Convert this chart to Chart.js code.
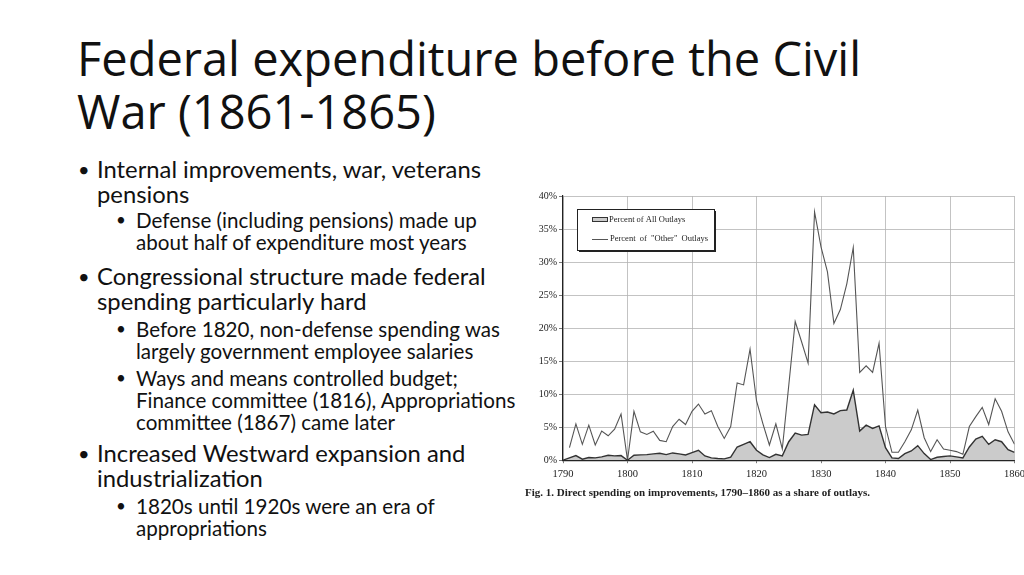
<!DOCTYPE html>
<html>
<head>
<meta charset="utf-8">
<script src="https://cdn.jsdelivr.net/npm/chart.js@4.4.1/dist/chart.umd.min.js"></script>
<style>
  html, body { margin: 0; padding: 0; background: #fff; }
  body { width: 1024px; height: 575px; position: relative; overflow: hidden; }
  .title {
    position: absolute; left: 77px; top: 32px;
    font-family: "Open Sans", "Noto Sans", sans-serif;
    font-size: 47px; line-height: 53px; color: #111; white-space: nowrap;
  }
  .item { position: absolute; font-family: Lato, "Noto Sans", sans-serif; color: #111; white-space: nowrap; }
  .l1 { left: 78px; font-size: 23.8px; line-height: 24.5px; }
  .l1 .t { margin-left: 19px; }
  .l1 .b { font-size: 20px; }
  .l2 { left: 116px; font-size: 20.6px; line-height: 22px; }
  .l2 .t { margin-left: 20px; }
  .l2 .b { font-size: 17px; }
  .b { position: absolute; left: 0; top: 0; }
  #chartBox { position: absolute; left: 525px; top: 186px; width: 505px; height: 316px; }
</style>
</head>
<body>
<div class="title">Federal expenditure before the Civil<br>War (1861-1865)</div>

<div class="item l1" style="top:157px"><span class="b">•</span><div class="t">Internal improvements, war, veterans<br>pensions</div></div>
<div class="item l2" style="top:209px"><span class="b">•</span><div class="t">Defense (including pensions) made up<br>about half of expenditure most years</div></div>
<div class="item l1" style="top:264px"><span class="b">•</span><div class="t">Congressional structure made federal<br>spending particularly hard</div></div>
<div class="item l2" style="top:318px"><span class="b">•</span><div class="t">Before 1820, non-defense spending was<br>largely government employee salaries</div></div>
<div class="item l2" style="top:367px"><span class="b">•</span><div class="t">Ways and means controlled budget;<br>Finance committee (1816), Appropriations<br>committee (1867) came later</div></div>
<div class="item l1" style="top:441px"><span class="b">•</span><div class="t">Increased Westward expansion and<br>industrialization</div></div>
<div class="item l2" style="top:495px"><span class="b">•</span><div class="t">1820s until 1920s were an era of<br>appropriations</div></div>

<div id="chartBox"><canvas id="spendingChart"></canvas></div>

<script>
// years on the x axis
const years = [
  1790, 1791, 1792, 1793, 1794, 1795, 1796, 1797, 1798, 1799,
  1800, 1801, 1802, 1803, 1804, 1805, 1806, 1807, 1808, 1809,
  1810, 1811, 1812, 1813, 1814, 1815, 1816, 1817, 1818, 1819,
  1820, 1821, 1822, 1823, 1824, 1825, 1826, 1827, 1828, 1829,
  1830, 1831, 1832, 1833, 1834, 1835, 1836, 1837, 1838, 1839,
  1840, 1841, 1842, 1843, 1844, 1845, 1846, 1847, 1848, 1849,
  1850, 1851, 1852, 1853, 1854, 1855, 1856, 1857, 1858, 1859,
  1860
];

// Percent of All Outlays (shaded area)
const allOutlays = [
  0, 0.35, 0.7, 0.15, 0.4, 0.35, 0.5, 0.75, 0.65, 0.7,
  0, 0.75, 0.8, 0.85, 0.95, 1.05, 0.85, 1.1, 0.95, 0.8,
  1.15, 1.5, 0.65, 0.35, 0.25, 0.2, 0.45, 2.0, 2.4, 2.8,
  1.5, 0.8, 0.4, 0.9, 0.65, 2.8, 4.1, 3.8, 3.9, 8.4,
  7.2, 7.3, 7.0, 7.5, 7.6, 10.6, 4.4, 5.3, 4.8, 5.2,
  1.9, 0.35, 0.25, 1.0, 1.4, 2.2, 1.0, 0.1, 0.45, 0.55,
  0.65, 0.5, 0.35, 2.0, 3.2, 3.6, 2.4, 3.1, 2.8, 1.6,
  1.2
];

// Percent of "Other" Outlays (line)
const otherOutlays = [
  null, 1.9, 5.5, 2.4, 5.3, 2.3, 4.4, 3.7, 4.7, 7.0,
  0, 7.4, 4.3, 3.9, 4.4, 3.0, 2.8, 5.1, 6.2, 5.4,
  7.4, 8.5, 7.0, 7.5, 5.1, 3.3, 5.1, 11.7, 11.4, 16.8,
  9.0, 5.5, 2.3, 5.5, 1.7, 11.3, 21.0, 17.9, 14.7, 37.6,
  32.3, 28.5, 20.7, 22.8, 26.7, 32.2, 13.3, 14.3, 13.3, 17.7,
  5.1, 1.2, 1.2, 2.8, 4.6, 7.6, 3.4, 1.3, 3.1, 1.7,
  1.5, 1.3, 0.9, 5.1, 6.6, 8.0, 5.4, 9.3, 7.4, 4.3,
  2.4
];

const xTickYears = [1790, 1800, 1810, 1820, 1830, 1840, 1850, 1860];
const yTickValues = [0, 5, 10, 15, 20, 25, 30, 35, 40];

const seriesLabels = ['Percent of All Outlays', 'Percent  of  "Other"  Outlays'];
const caption = 'Fig. 1. Direct spending on improvements, 1790\u20131860 as a share of outlays.';

// legend box drawn inside the plot, like the scanned figure
const insetLegend = {
  id: 'insetLegend',
  afterDatasetsDraw(chart) {
    const ctx = chart.ctx;
    const area = chart.chartArea;
    const x = area.left + 14, y = area.top + 13, w = 137, h = 41;
    ctx.save();
    ctx.fillStyle = '#222';
    ctx.fillRect(x + 2, y + 2, w, h);
    ctx.fillStyle = '#fff';
    ctx.fillRect(x, y, w, h);
    ctx.strokeStyle = '#222';
    ctx.lineWidth = 1;
    ctx.strokeRect(x + 0.5, y + 0.5, w, h);

    const ds = chart.data.datasets;
    ctx.font = '8.5px "Liberation Serif", serif';
    ctx.textBaseline = 'middle';
    // area swatch
    ctx.fillStyle = ds[0].backgroundColor;
    ctx.fillRect(x + 15, y + 8, 16, 5);
    ctx.strokeStyle = '#333';
    ctx.strokeRect(x + 15.5, y + 8.5, 15, 4);
    ctx.fillStyle = '#222';
    ctx.fillText(ds[0].label, x + 32, y + 11);
    // line swatch
    ctx.strokeStyle = ds[1].borderColor;
    ctx.beginPath();
    ctx.moveTo(x + 15, y + 30.5);
    ctx.lineTo(x + 31, y + 30.5);
    ctx.stroke();
    ctx.fillText(ds[1].label, x + 33, y + 30);
    ctx.restore();
  }
};

function createSpendingChart() {
  const ctx = document.getElementById('spendingChart').getContext('2d');

  new Chart(ctx, {
    type: 'line',
    data: {
      datasets: [{
        label: seriesLabels[0],
        data: years.map((yr, i) => ({ x: yr, y: allOutlays[i] })),
        backgroundColor: '#cbcbcb',
        borderColor: '#333',
        borderWidth: 1.4,
        fill: 'origin',
        pointRadius: 0,
        tension: 0
      }, {
        label: seriesLabels[1],
        data: years.map((yr, i) => ({ x: yr, y: otherOutlays[i] })),
        borderColor: '#555',
        borderWidth: 1.1,
        fill: false,
        pointRadius: 0,
        tension: 0,
        spanGaps: false
      }]
    },
    options: {
      responsive: true,
      maintainAspectRatio: false,
      animation: false,
      layout: { padding: { top: 10, right: 0, left: 0, bottom: 0 } },
      plugins: {
        legend: { display: false },
        tooltip: { enabled: false },
        title: {
          display: true,
          text: caption,
          position: 'bottom',
          align: 'start',
          color: '#222',
          font: { family: '"Liberation Serif", serif', size: 11, weight: 'bold' },
          padding: { top: 1, bottom: 2 }
        }
      },
      scales: {
        x: {
          type: 'linear',
          min: 1790,
          max: 1860,
          afterBuildTicks: s => { s.ticks = xTickYears.map(v => ({ value: v })); },
          ticks: {
            callback: v => String(v),
            color: '#222',
            maxRotation: 0,
            padding: 5,
            font: { family: '"Liberation Serif", serif', size: 10.5 }
          },
          grid: { color: '#b4b4b4', lineWidth: 0.8, tickLength: 3, tickColor: '#555' },
          border: { color: '#222', width: 1.2 }
        },
        y: {
          min: 0,
          max: 40,
          afterBuildTicks: s => { s.ticks = yTickValues.map(v => ({ value: v })); },
          afterFit: s => { s.width = 38; },
          ticks: {
            callback: v => v + '%',
            color: '#222',
            padding: 2,
            font: { family: '"Liberation Serif", serif', size: 10 }
          },
          grid: { color: '#b4b4b4', lineWidth: 0.8, tickLength: 4, tickColor: '#555' },
          border: { color: '#222', width: 1.2 }
        }
      }
    },
    plugins: [insetLegend]
  });
}

createSpendingChart();
</script>
</body>
</html>
